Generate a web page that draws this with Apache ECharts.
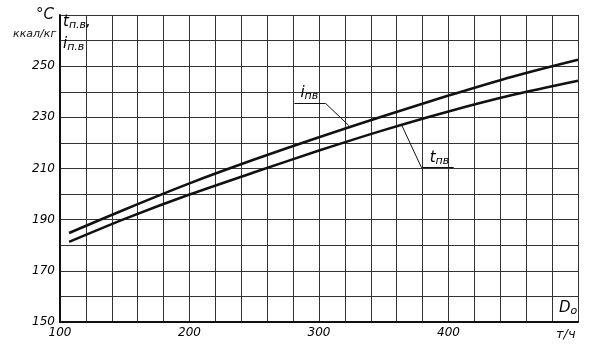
<!DOCTYPE html>
<html>
<head>
<meta charset="utf-8">
<script src="https://cdn.jsdelivr.net/npm/echarts@6/dist/echarts.min.js"></script>
<style>
  html, body { margin: 0; padding: 0; background: #fff; }
  #chart { width: 592px; height: 359px; }
</style>
</head>
<body>
<div id="chart"></div>
<script>
// steam flow D0, t/h
var flow = [107, 150, 200, 250, 300, 350, 400, 450, 500];
// enthalpy of feed water i_пв, kcal/kg
var enthalpy = [184.8, 194, 204.2, 213.5, 222.2, 230.5, 238.5, 246, 252.5];
// feed water temperature t_пв, °C
var temperature = [181.3, 190.3, 199.8, 208.5, 217, 225, 232.3, 238.8, 244.3];
var xTickLabels = [100, 200, 300, 400];
var yTickLabels = [150, 170, 190, 210, 230, 250];

// leader lines of the curve captions (in data units)
var leaderI = [[281, 235.5], [305, 235.5], [323, 226.8]];
var leaderT = [[364, 226.8], [379, 210.5], [404, 210.5]];

var font = "'Liberation Sans Narrow', 'DejaVu Sans', sans-serif";
var ink = '#111';

var chart = echarts.init(document.getElementById('chart'));

function zip(xs, ys) {
    return xs.map(function (x, i) { return [x, ys[i]]; });
}
function segs(pts) {
    var out = [];
    for (var i = 0; i < pts.length - 1; i++) {
        out.push([{ coord: pts[i] }, { coord: pts[i + 1] }]);
    }
    return out;
}

var option = {
    animation: false,
    backgroundColor: '#fff',
    grid: { left: 60, right: 14, top: 15, bottom: 37 },
    xAxis: {
        type: 'value',
        min: 100,
        max: 500,
        interval: 20,
        axisLine: { lineStyle: { color: ink, width: 2 } },
        axisTick: { show: false },
        splitLine: { lineStyle: { color: '#333', width: 1 } },
        axisLabel: {
            color: '#000',
            fontFamily: font,
            fontStyle: 'italic',
            fontSize: 12,
            margin: 5,
            showMaxLabel: false,
            formatter: function (v) { return xTickLabels.indexOf(v) >= 0 ? String(v) : ''; }
        }
    },
    yAxis: {
        type: 'value',
        min: 150,
        max: 270,
        interval: 10,
        axisLine: { show: true, lineStyle: { color: ink, width: 2 } },
        axisTick: { show: false },
        splitLine: { lineStyle: { color: '#333', width: 1 } },
        axisLabel: {
            color: '#000',
            fontFamily: font,
            fontStyle: 'italic',
            fontSize: 12,
            margin: 5,
            formatter: function (v) { return yTickLabels.indexOf(v) >= 0 ? String(v) : ''; }
        }
    },
    series: [
        {
            name: 'i пв',
            type: 'line',
            data: zip(flow, enthalpy),
            smooth: 0.25,
            symbol: 'none',
            lineStyle: { color: ink, width: 2.6 },
            markLine: {
                silent: true,
                symbol: 'none',
                label: { show: false },
                lineStyle: { color: ink, width: 1, type: 'solid' },
                data: segs(leaderI)
            }
        },
        {
            name: 't пв',
            type: 'line',
            data: zip(flow, temperature),
            smooth: 0.25,
            symbol: 'none',
            lineStyle: { color: ink, width: 2.6 },
            markLine: {
                silent: true,
                symbol: 'none',
                label: { show: false },
                lineStyle: { color: ink, width: 1, type: 'solid' },
                data: segs(leaderT)
            }
        }
    ]
};
chart.setOption(option);

// captions placed from data coordinates
var pI = chart.convertToPixel({ gridIndex: 0 }, leaderI[0]);
var pT = chart.convertToPixel({ gridIndex: 0 }, leaderT[2]);
var sub = {
    big: { fontFamily: font, fontStyle: 'italic', fontSize: 15, color: ink },
    sm: { fontFamily: font, fontStyle: 'italic', fontSize: 11, color: ink, padding: [6, 0, 0, 0] }
};
chart.setOption({
    graphic: [
        { type: 'text', left: 36, top: 8, style: { text: '°C', font: 'italic 15px ' + font, fill: ink } },
        { type: 'text', left: 13, top: 29, style: { text: 'ккал/кг', font: 'italic 11px ' + font, fill: ink } },
        { type: 'text', left: 63, top: 15, style: { rich: sub, text: '{big|t}{sm|п.в}{big|,}' } },
        { type: 'text', left: 63, top: 37, style: { rich: sub, text: '{big|i}{sm|п.в}' } },
        { type: 'text', left: pI[0] + 6, top: pI[1] - 18, style: { rich: sub, text: '{big|i}{sm|пв}' } },
        { type: 'text', left: pT[0] - 24, top: pT[1] - 17, style: { rich: sub, text: '{big|t}{sm|пв}' } },
        { type: 'text', left: 559, top: 301, style: { rich: sub, text: '{big|D}{sm|o}' } },
        { type: 'text', left: 556, top: 328, style: { text: 'т/ч', font: 'italic 13px ' + font, fill: ink } }
    ]
});

window.addEventListener('resize', function () {
    chart.resize();
});
</script>
</body>
</html>
